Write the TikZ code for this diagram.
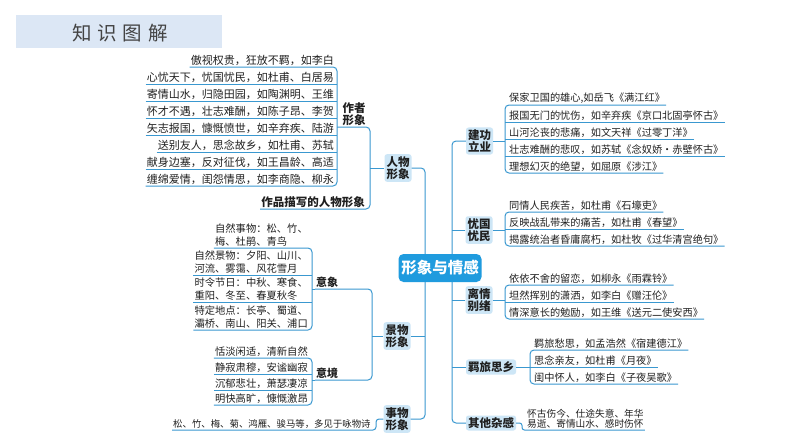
\documentclass[tikz,border=0pt]{standalone}
\usepackage{fontspec}
\setmainfont{Noto Sans CJK SC}
\definecolor{lncol}{HTML}{3A98D0}
\definecolor{topicfill}{HTML}{CDE6F6}
\definecolor{hubfill}{HTML}{1F9BDE}
\definecolor{bannerfill}{HTML}{DCE7F5}
\definecolor{txtcol}{HTML}{202020}
\definecolor{titlecol}{HTML}{444444}
\begin{document}
\begin{tikzpicture}[x=1pt,y=-1pt,
  conn/.style={draw=lncol, line width=1pt, rounded corners=4pt},
  topicbox/.style={fill=topicfill, rounded corners=2.5pt, inner sep=2pt, align=center, text=txtcol,
    font=\fontsize{11.5}{12.5}\selectfont\bfseries},
  plainlabel/.style={inner sep=1pt, align=center, text=txtcol, font=\fontsize{11.5}{12.5}\selectfont\bfseries},
  ritem/.style={anchor=south west, inner sep=1pt, text=txtcol, font=\fontsize{10.2}{12}\selectfont},
  aitem/.style={anchor=south east, inner sep=1pt, text=txtcol, font=\fontsize{11}{12}\selectfont},
  yitem/.style={anchor=south east, inner sep=1pt, align=left, text=txtcol, font=\fontsize{10.3}{13}\selectfont},
  hubnode/.style={fill=hubfill, rounded corners=5pt, text=white, minimum width=83pt, minimum height=28pt,
    inner sep=2pt, font=\fontsize{15.5}{16}\selectfont\bfseries},
  titletext/.style={text=titlecol, inner sep=0pt, font=\fontsize{19.5}{20}\selectfont}
]
\useasboundingbox (0,0) rectangle (794,447);
\fill[white] (0,0) rectangle (794,447);

% title banner
\fill[bannerfill] (16,15) rectangle (222,48);
\node[titletext] (title) at (120,33) {知\hspace{6pt}识\hspace{6pt}图\hspace{6pt}解};

% first-level nodes
\node[topicbox] (renwu) at (398,168) {人物\\形象};
\node[topicbox] (jingwu) at (397,336) {景物\\形象};
\node[topicbox] (shiwu) at (397,419) {事物\\形象};
\node[topicbox] (jg) at (479.5,141) {建功\\立业};
\node[topicbox] (yg) at (479,230) {忧国\\忧民};
\node[topicbox] (lq) at (479,300) {离情\\别绪};
\node[topicbox] (jl) at (491,367) {羁旅思乡};
\node[topicbox] (qt) at (491,423) {其他杂感};

% trunks
\draw[conn] (renwu.east) -- (425,168) -- (425,419) -- (shiwu.east);
\draw[conn] (jingwu.east) -- (425,336);
\draw[conn] (jg.west) -- (452,141) -- (452,423) -- (qt.west);
\draw[conn] (yg.west) -- (452,230);
\draw[conn] (lq.west) -- (452,300);
\draw[conn] (jl.west) -- (452,367);

% hub
\node[hubnode] (hub) at (440,268) {形象与情感};

% ---------- 人物形象 ----------
\node[plainlabel, anchor=south] (zuozhe) at (354,127) {作者\\形象};
\node[plainlabel, anchor=south east] (zuopin) at (366,209) {作品描写的人物形象};
\draw[conn] (zuopin.south west) -- (370,209) -- (370,127) -- (337,127);
\draw[conn] (renwu.west) -- (370,168);

\node[aitem] (a1) at (335,67) {傲视权贵，狂放不羁，如李白};
\node[aitem] (a2) at (335,84) {心忧天下，忧国忧民，如杜甫、白居易};
\node[aitem] (a3) at (335,101) {寄情山水，归隐田园，如陶渊明、王维};
\node[aitem] (a4) at (335,118) {怀才不遇，壮志难酬，如陈子昂、李贺};
\node[aitem] (a5) at (335,135) {矢志报国，慷慨愤世，如辛弃疾、陆游};
\node[aitem] (a6) at (335,152) {送别友人，思念故乡，如杜甫、苏轼};
\node[aitem] (a7) at (335,169) {献身边塞，反对征伐，如王昌龄、高适};
\node[aitem] (a8) at (335,186) {缠绵爱情，闺怨情思，如李商隐、柳永};
\draw[conn] (a1.south west) -- (337,67) -- (337,186) -- (a8.south west);
\draw[conn] (a2.south west) -- (337,84);
\draw[conn] (a3.south west) -- (337,101);
\draw[conn] (a4.south west) -- (337,118);
\draw[conn] (a5.south west) -- (337,135);
\draw[conn] (a6.south west) -- (337,152);
\draw[conn] (a7.south west) -- (337,169);

% ---------- 景物形象 ----------
\node[plainlabel, anchor=south west, font=\fontsize{11}{12}\selectfont\bfseries] (yixiang) at (315,289) {意象};
\node[plainlabel, anchor=south west, font=\fontsize{11}{12}\selectfont\bfseries] (yijing) at (315,380) {意境};
\draw[conn] (yixiang.south west) -- (372,289) -- (372,380) -- (yijing.south west);
\draw[conn] (jingwu.west) -- (372,336);
\draw[conn] (yixiang.south west) -- (312,289);
\draw[conn] (yijing.south west) -- (312,380);

\node[yitem] (y1) at (309,248) {自然事物：松、竹、\\梅、杜鹃、青鸟};
\node[yitem] (y2) at (309,275) {自然景物：夕阳、山川、\\河流、雾霭、风花雪月};
\node[yitem] (y3) at (309,302) {时令节日：中秋、寒食、\\重阳、冬至、春夏秋冬};
\node[yitem] (y4) at (309,330) {特定地点：长亭、蜀道、\\灞桥、南山、阳关、浦口};
\draw[conn] (y1.south west) -- (312,248) -- (312,330) -- (y4.south west);
\draw[conn] (y2.south west) -- (312,275);
\draw[conn] (y3.south west) -- (312,302);

\node[yitem] (j1) at (309,358) {恬淡闲适，清新自然};
\node[yitem] (j2) at (309,374) {静寂肃穆，安谧幽寂};
\node[yitem] (j3) at (309,390) {沉郁悲壮，萧瑟凄凉};
\node[yitem] (j4) at (309,405) {明快高旷，慷慨激昂};
\draw[conn] (j1.south west) -- (312,358) -- (312,405) -- (j4.south west);
\draw[conn] (j2.south west) -- (312,374);
\draw[conn] (j3.south west) -- (312,390);

% ---------- 事物形象 ----------
\node[ritem, font=\fontsize{9.4}{11}\selectfont] (s1) at (172,430) {松、竹、梅、菊、鸿雁、骏马等，多见于咏物诗};
\draw[conn, rounded corners=3pt] (s1.south west) -- (376,430) -- (376,419) -- (shiwu.west);

% ---------- 建功立业 ----------
\node[ritem] (r1) at (508,105) {保家卫国的雄心,如岳飞《满江红》};
\node[ritem] (r2) at (508,122) {报国无门的忧伤，如辛弃疾《京口北固亭怀古》};
\node[ritem] (r3) at (508,139) {山河沦丧的悲痛，如文天祥《过零丁洋》};
\node[ritem] (r4) at (508,156) {壮志难酬的悲叹，如苏轼《念奴娇·赤壁怀古》};
\node[ritem] (r5) at (508,173) {理想幻灭的绝望，如屈原《涉江》};
\draw[conn] (r1.south east) -- (505,105) -- (505,173) -- (r5.south east);
\draw[conn] (r2.south east) -- (505,122);
\draw[conn] (r3.south east) -- (505,139);
\draw[conn] (r4.south east) -- (505,156);
\draw[conn] (jg.east) -- (505,141);

% ---------- 忧国忧民 ----------
\node[ritem] (u1) at (508,212) {同情人民疾苦，如杜甫《石壕吏》};
\node[ritem] (u2) at (508,229) {反映战乱带来的痛苦，如杜甫《春望》};
\node[ritem] (u3) at (508,246) {揭露统治者昏庸腐朽，如杜牧《过华清宫绝句》};
\draw[conn] (u1.south east) -- (505,212) -- (505,246) -- (u3.south east);
\draw[conn] (u2.south east) -- (505,229);
\draw[conn] (yg.east) -- (505,230);

% ---------- 离情别绪 ----------
\node[ritem] (l1) at (508,285) {依依不舍的留恋，如柳永《雨霖铃》};
\node[ritem] (l2) at (508,302) {坦然挥别的潇洒，如李白《赠汪伦》};
\node[ritem] (l3) at (508,319) {情深意长的勉励，如王维《送元二使安西》};
\draw[conn] (l1.south east) -- (505,285) -- (505,319) -- (l3.south east);
\draw[conn] (l2.south east) -- (505,302);
\draw[conn] (lq.east) -- (505,300);

% ---------- 羁旅思乡 ----------
\node[ritem] (m1) at (533,350) {羁旅愁思，如孟浩然《宿建德江》};
\node[ritem] (m2) at (533,367) {思念亲友，如杜甫《月夜》};
\node[ritem] (m3) at (533,384) {闺中怀人，如李白《子夜吴歌》};
\draw[conn] (m1.south east) -- (530,350) -- (530,384) -- (m3.south east);
\draw[conn] (m2.south east) -- (530,367);
\draw[conn] (jl.east) -- (530,367);

% ---------- 其他杂感 ----------
\node[ritem, align=left, font=\fontsize{9.7}{10.5}\selectfont] (q1) at (526,430) {怀古伤今、仕途失意、年华\\易逝、寄情山水、感时伤怀};
\draw[conn, rounded corners=2.5pt] (qt.east) -- (522,423) -- (522,430) -- (q1.south east);
\end{tikzpicture}
\end{document}
